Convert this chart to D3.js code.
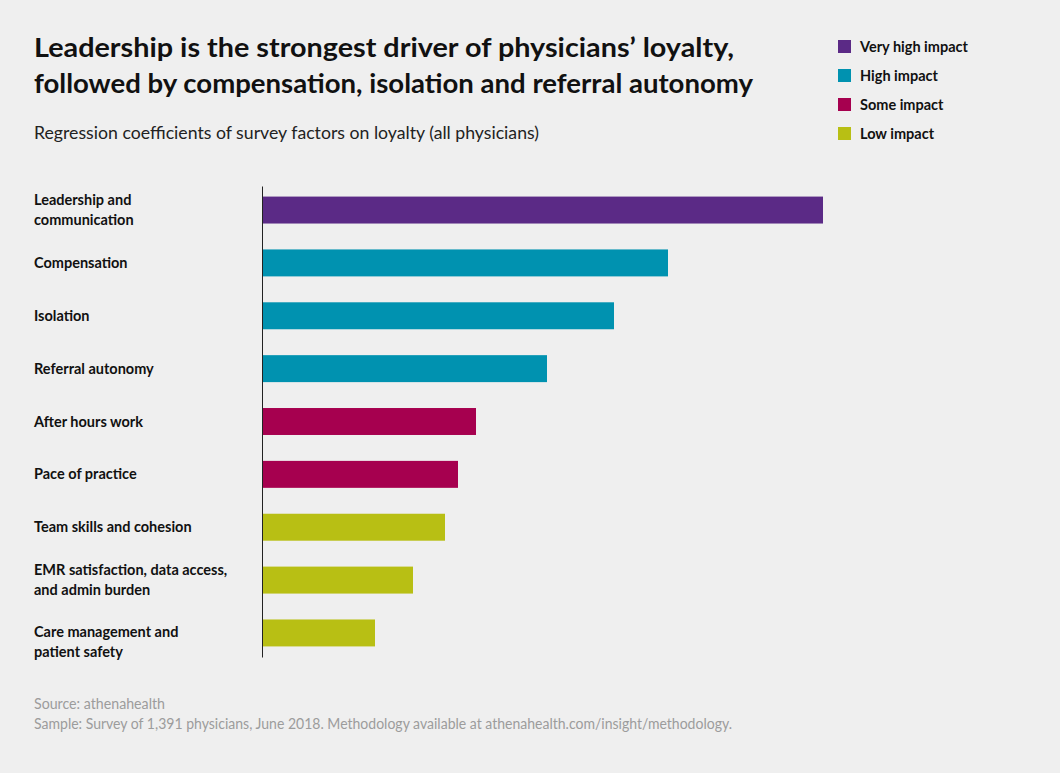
<!DOCTYPE html>
<html><head><meta charset="utf-8">
<script src="https://cdn.jsdelivr.net/npm/d3@7"></script>
<style>
body{margin:0;background:#efefef;}
svg{display:block;background:#efefef;font-family:Lato,"Open Sans",sans-serif;}
</style></head>
<body>
<svg id="chart" width="1060" height="773"></svg>
<script>
const categories = [
  ["Leadership and","communication"],
  ["Compensation"],
  ["Isolation"],
  ["Referral autonomy"],
  ["After hours work"],
  ["Pace of practice"],
  ["Team skills and cohesion"],
  ["EMR satisfaction, data access,","and admin burden"],
  ["Care management and","patient safety"]
];
const values = [0.561, 0.406, 0.352, 0.285, 0.214, 0.196, 0.183, 0.151, 0.113];
const impact = ["Very high impact","High impact","High impact","High impact","Some impact","Some impact","Low impact","Low impact","Low impact"];
const legendLabels = ["Very high impact","High impact","Some impact","Low impact"];
const legendColors = ["#5b2a86","#0092b0","#a6004f","#b8bf14"];
const titleLines = ["Leadership is the strongest driver of physicians\u2019 loyalty,","followed by compensation, isolation and referral autonomy"];
const subtitle = "Regression coefficients of survey factors on loyalty (all physicians)";
const footer = ["Source: athenahealth","Sample: Survey of 1,391 physicians, June 2018. Methodology available at athenahealth.com/insight/methodology."];

const svg = d3.select("#chart");
const color = d3.scaleOrdinal().domain(legendLabels).range(legendColors);

const x = d3.scaleLinear().domain([0, d3.max(values)]).range([262, 823]);
const y = d3.scaleBand().domain(d3.range(categories.length)).range([186, 657]).paddingInner(0.49).paddingOuter(0.2);

// title
const titleW = [700, 719];
svg.append("g").selectAll("text").data(titleLines).join("text")
  .attr("x", 34).attr("y", (d,i)=>57+i*35.5)
  .attr("font-size", 26).attr("font-weight", 700).attr("fill", "#111")
  .attr("textLength",(d,i)=>titleW[i]).attr("lengthAdjust","spacingAndGlyphs")
  .text(d=>d);
svg.append("text").attr("x",34).attr("y",139).attr("font-size",16.5).attr("fill","#222").attr("font-weight",400)
  .attr("textLength",505).attr("lengthAdjust","spacingAndGlyphs").text(subtitle);

// legend
const lg = svg.append("g").selectAll("g").data(legendLabels).join("g")
  .attr("transform",(d,i)=>`translate(838,${40+i*29})`);
lg.append("rect").attr("width",13).attr("height",13).attr("fill",d=>color(d));
lg.append("text").attr("x",22).attr("y",11.5).attr("font-size",14.5).attr("font-weight",700).attr("fill","#111").text(d=>d);

// bars
svg.append("g").selectAll("rect").data(values).join("rect")
  .attr("x", x(0)).attr("y",(d,i)=>y(i)).attr("width",d=>x(d)-x(0)).attr("height",y.bandwidth())
  .attr("fill",(d,i)=>color(impact[i]));

// axis line
const yAxis = d3.axisLeft(y).tickSize(0).tickFormat("");
svg.append("g").attr("transform",`translate(${x(0)},0)`).call(yAxis)
  .call(g=>g.select(".domain").attr("stroke","#222").attr("stroke-width",1));

// labels
const lab = svg.append("g").selectAll("text").data(categories).join("text")
  .attr("font-size",14.5).attr("font-weight",700).attr("fill","#111");
lab.each(function(lines,i){
  const cy = y(i)+y.bandwidth()/2 + (i === categories.length-1 ? 9 : 0);
  const n = lines.length, lh = 19.5;
  d3.select(this).selectAll("tspan").data(lines).join("tspan")
    .attr("x",34).attr("y",(d,j)=>cy + (j-(n-1)/2)*lh + 5).text(d=>d);
});

// footer
const footW = [131, 698];
svg.append("g").selectAll("text").data(footer).join("text")
  .attr("x",34).attr("y",(d,i)=>709+i*20).attr("font-size",14.5).attr("fill","#9c9c9c").attr("font-weight",400)
  .attr("textLength",(d,i)=>footW[i]).attr("lengthAdjust","spacingAndGlyphs").text(d=>d);
</script>
</body></html>
